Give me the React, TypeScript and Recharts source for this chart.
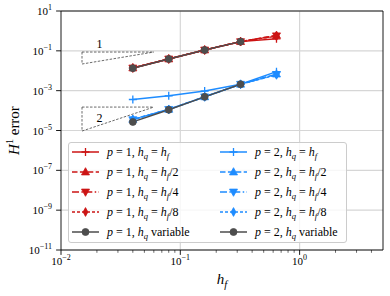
import {
  CartesianGrid,
  Line,
  LineChart,
  ReferenceArea,
  ReferenceDot,
  ReferenceLine,
  XAxis,
  YAxis,
} from "recharts";

const SERIF = "'Liberation Serif', 'DejaVu Serif', serif";
const RED = "#cc1414";
const BLUE = "#1e8cff";
const GREY = "#4d4d4d";

// mesh sizes h_f
const hf = [0.04, 0.08, 0.16, 0.32, 0.64];

// p = 1
const p1Equal = [0.0138, 0.039, 0.11, 0.29, 0.4];
const p1Half = [0.0138, 0.039, 0.11, 0.29, 0.6];
const p1Quarter = [0.0138, 0.039, 0.11, 0.29, 0.57];
const p1Eighth = [0.0138, 0.039, 0.11, 0.29, 0.54];
const p1Variable = [0.0135, 0.039, 0.11, 0.29];

// p = 2
const p2Equal = [3.6e-4, 5.5e-4, 9.5e-4, 2.1e-3, 9.0e-3];
const p2Half = [3.6e-5, 1.15e-4, 4.9e-4, 2.1e-3, 6.8e-3];
const p2Quarter = [3.5e-5, 1.15e-4, 4.9e-4, 2.1e-3, 6.5e-3];
const p2Eighth = [3.5e-5, 1.15e-4, 4.9e-4, 2.1e-3, 6.2e-3];
const p2Variable = [2.7e-5, 1.1e-4, 4.9e-4, 2.1e-3];

// slope triangles
const slopeX = [0.015, 0.06];
const slope1Y = [0.0218, 0.087];
const slope2Y = [9.4e-6, 1.5e-4];
const slopeLabelX = 0.021;
const slope1LabelY = 0.138;
const slope2LabelY = 2.8e-5;

const xTicks = [
  0.01, 0.02, 0.03, 0.04, 0.05, 0.06, 0.07, 0.08, 0.09,
  0.1, 0.2, 0.3, 0.4, 0.5, 0.6, 0.7, 0.8, 0.9,
  1, 2, 3, 4,
];
const yTicks = [1e-11, 1e-9, 1e-7, 1e-5, 1e-3, 1e-1, 10];

type Shape = "plus" | "up" | "down" | "thin" | "circle";
type Series = {
  name: string;
  ys: number[];
  color: string;
  shape: Shape;
  dash?: string;
  p: number;
  hq: string;
};

const SERIES: Series[] = [
  { name: "p1-eq", ys: p1Equal, color: RED, shape: "plus", p: 1, hq: "" },
  { name: "p1-2", ys: p1Half, color: RED, shape: "up", dash: "5.5 2.4", p: 1, hq: "/2" },
  { name: "p1-4", ys: p1Quarter, color: RED, shape: "down", dash: "7 2.4 1.5 2.4", p: 1, hq: "/4" },
  { name: "p1-8", ys: p1Eighth, color: RED, shape: "thin", dash: "3 2", p: 1, hq: "/8" },
  { name: "p1-var", ys: p1Variable, color: GREY, shape: "circle", p: 1, hq: "var" },
  { name: "p2-eq", ys: p2Equal, color: BLUE, shape: "plus", p: 2, hq: "" },
  { name: "p2-2", ys: p2Half, color: BLUE, shape: "up", dash: "5.5 2.4", p: 2, hq: "/2" },
  { name: "p2-4", ys: p2Quarter, color: BLUE, shape: "down", dash: "7 2.4 1.5 2.4", p: 2, hq: "/4" },
  { name: "p2-8", ys: p2Eighth, color: BLUE, shape: "thin", dash: "3 2", p: 2, hq: "/8" },
  { name: "p2-var", ys: p2Variable, color: GREY, shape: "circle", p: 2, hq: "var" },
];

const toPoints = (ys: number[]) => ys.map((y, i) => ({ x: hf[i], y }));

function Marker({ cx, cy, shape, color }: { cx: number; cy: number; shape: Shape; color: string }) {
  if (cx == null || cy == null) return <g />;
  switch (shape) {
    case "plus":
      return (
        <path
          d={`M${cx - 4},${cy}H${cx + 4}M${cx},${cy - 4}V${cy + 4}`}
          stroke={color}
          strokeWidth={1.3}
        />
      );
    case "up":
      return (
        <polygon
          points={`${cx},${cy - 4.3} ${cx - 4},${cy + 2.9} ${cx + 4},${cy + 2.9}`}
          fill={color}
          stroke={color}
          strokeWidth={0.8}
        />
      );
    case "down":
      return (
        <polygon
          points={`${cx},${cy + 4.3} ${cx - 4},${cy - 2.9} ${cx + 4},${cy - 2.9}`}
          fill={color}
          stroke={color}
          strokeWidth={0.8}
        />
      );
    case "thin":
      return (
        <polygon
          points={`${cx},${cy - 4.4} ${cx + 2.4},${cy} ${cx},${cy + 4.4} ${cx - 2.4},${cy}`}
          fill={color}
          stroke={color}
          strokeWidth={0.8}
        />
      );
    default:
      return <circle cx={cx} cy={cy} r={3.5} fill={color} stroke={color} strokeWidth={0.8} />;
  }
}

const expText = (e: number) => (e < 0 ? `\u2212${-e}` : `${e}`);

function XTick({ x, y, payload }: any) {
  const e = Math.log10(payload.value);
  const major = Math.abs(e - Math.round(e)) < 1e-6;
  return (
    <g>
      <line
        x1={x}
        x2={x}
        y1={y}
        y2={y + (major ? 4.9 : 2.8)}
        stroke="#000"
        strokeWidth={major ? 0.9 : 0.6}
      />
      {major && (
        <text x={x} y={y + 14.5} textAnchor="middle" fontFamily={SERIF} fontSize={11} fill="#000">
          10
          <tspan dy={-5} fontSize={8}>
            {expText(Math.round(e))}
          </tspan>
        </text>
      )}
    </g>
  );
}

function YTick({ x, y, payload }: any) {
  const e = Math.round(Math.log10(payload.value));
  return (
    <g>
      <line x1={x - 4.9} x2={x} y1={y} y2={y} stroke="#000" strokeWidth={0.9} />
      <text x={x - 9} y={y + 4} textAnchor="end" fontFamily={SERIF} fontSize={11} fill="#000">
        10
        <tspan dy={-5} fontSize={8}>
          {expText(e)}
        </tspan>
      </text>
    </g>
  );
}

function SeriesLabel({ p, hq }: { p: number; hq: string }) {
  return (
    <>
      <tspan fontStyle="italic">p</tspan>
      <tspan>{` = ${p}, `}</tspan>
      <tspan fontStyle="italic">h</tspan>
      <tspan fontStyle="italic" fontSize={8.5} dy={3}>
        q
      </tspan>
      {hq === "var" ? (
        <tspan dy={-3}>{" variable"}</tspan>
      ) : (
        <>
          <tspan dy={-3}>{" = "}</tspan>
          <tspan fontStyle="italic">h</tspan>
          <tspan fontStyle="italic" fontSize={8.5} dy={3}>
            f
          </tspan>
          <tspan dy={-3}>{hq}</tspan>
        </>
      )}
    </>
  );
}

function ChartLegend() {
  return (
    <div
      style={{
        position: "absolute",
        left: 68,
        top: 142,
        width: 279,
        height: 101,
        border: "1px solid #cccccc",
        borderRadius: 3,
        background: "rgba(255,255,255,0.8)",
        boxSizing: "border-box",
      }}
    >
      <svg width={279} height={101} style={{ position: "absolute", left: -1, top: -1 }}>
        {SERIES.map((s, i) => {
          const col = i < 5 ? 0 : 1;
          const row = i % 5;
          const x0 = col === 0 ? 4 : 152;
          const cy = 10 + row * 20;
          return (
            <g key={s.name}>
              <line
                x1={x0}
                x2={x0 + 27}
                y1={cy}
                y2={cy}
                stroke={s.color}
                strokeWidth={1.5}
                strokeDasharray={s.dash}
              />
              <Marker cx={x0 + 13.5} cy={cy} shape={s.shape} color={s.color} />
              <text x={x0 + 35} y={cy + 4} fontFamily={SERIF} fontSize={12} fill="#000">
                <SeriesLabel p={s.p} hq={s.hq} />
              </text>
            </g>
          );
        })}
      </svg>
    </div>
  );
}

export default function App() {
  return (
    <div style={{ position: "absolute", left: 0, top: 0, width: 390, height: 296, background: "#fff" }}>
      <LineChart width={390} height={296} margin={{ top: 11, right: 7, left: 0, bottom: 0 }}>
        <CartesianGrid
          stroke="#d6d6d6"
          strokeWidth={1.2}
          verticalValues={[0.1, 1]}
          horizontalValues={yTicks}
        />
        <XAxis
          dataKey="x"
          type="number"
          scale="log"
          domain={[0.01, 5]}
          allowDataOverflow
          ticks={xTicks}
          interval={0}
          tickSize={0}
          tickMargin={0}
          axisLine={false}
          tick={<XTick />}
          height={46}
        />
        <YAxis
          dataKey="y"
          type="number"
          scale="log"
          domain={[1e-11, 10]}
          allowDataOverflow
          ticks={yTicks}
          interval={0}
          tickSize={0}
          tickMargin={0}
          axisLine={false}
          tick={<YTick />}
          width={61}
        />
        <ReferenceLine
          segment={[
            { x: slopeX[0], y: slope1Y[1] },
            { x: slopeX[1], y: slope1Y[1] },
          ]}
          stroke="#444"
          strokeWidth={0.8}
          strokeDasharray="2.5 1.5"
        />
        <ReferenceLine
          segment={[
            { x: slopeX[0], y: slope1Y[1] },
            { x: slopeX[0], y: slope1Y[0] },
          ]}
          stroke="#444"
          strokeWidth={0.8}
          strokeDasharray="2.5 1.5"
        />
        <ReferenceLine
          segment={[
            { x: slopeX[0], y: slope1Y[0] },
            { x: slopeX[1], y: slope1Y[1] },
          ]}
          stroke="#444"
          strokeWidth={0.8}
          strokeDasharray="2.5 1.5"
        />
        <ReferenceLine
          segment={[
            { x: slopeX[0], y: slope2Y[1] },
            { x: slopeX[1], y: slope2Y[1] },
          ]}
          stroke="#444"
          strokeWidth={0.8}
          strokeDasharray="2.5 1.5"
        />
        <ReferenceLine
          segment={[
            { x: slopeX[0], y: slope2Y[1] },
            { x: slopeX[0], y: slope2Y[0] },
          ]}
          stroke="#444"
          strokeWidth={0.8}
          strokeDasharray="2.5 1.5"
        />
        <ReferenceLine
          segment={[
            { x: slopeX[0], y: slope2Y[0] },
            { x: slopeX[1], y: slope2Y[1] },
          ]}
          stroke="#444"
          strokeWidth={0.8}
          strokeDasharray="2.5 1.5"
        />
        <ReferenceDot
          x={slopeLabelX}
          y={slope1LabelY}
          r={0}
          shape={(p: any) => (
            <text x={p.cx} y={p.cy} textAnchor="middle" fontFamily={SERIF} fontSize={12} fill="#000">
              1
            </text>
          )}
        />
        <ReferenceDot
          x={slopeLabelX}
          y={slope2LabelY}
          r={0}
          shape={(p: any) => (
            <text x={p.cx} y={p.cy} textAnchor="middle" fontFamily={SERIF} fontSize={12} fill="#000">
              2
            </text>
          )}
        />
        {SERIES.map((s) => (
          <Line
            key={s.name}
            data={toPoints(s.ys)}
            dataKey="y"
            type="linear"
            stroke={s.color}
            strokeWidth={1.5}
            strokeDasharray={s.dash}
            dot={(props: any) => (
              <Marker key={`${s.name}-${props.index}`} cx={props.cx} cy={props.cy} shape={s.shape} color={s.color} />
            )}
            activeDot={false}
            isAnimationActive={false}
          />
        ))}
        <ReferenceArea
          x1={0.01}
          x2={5}
          y1={1e-11}
          y2={10}
          fill="none"
          fillOpacity={0}
          stroke="#000"
          strokeWidth={0.9}
        />
      </LineChart>
      <ChartLegend />
      <svg width={390} height={296} style={{ position: "absolute", left: 0, top: 0, pointerEvents: "none" }}>
        <text
          x={19}
          y={130.5}
          transform="rotate(-90, 19, 130.5)"
          textAnchor="middle"
          fontFamily={SERIF}
          fontSize={15}
          fill="#000"
        >
          <tspan fontStyle="italic">H</tspan>
          <tspan dy={-6} fontSize={10}>
            1
          </tspan>
          <tspan dy={6}>{" error"}</tspan>
        </text>
        <text x={222} y={284} textAnchor="middle" fontFamily={SERIF} fontSize={15} fill="#000">
          <tspan fontStyle="italic">h</tspan>
          <tspan fontStyle="italic" fontSize={10.5} dy={3.5}>
            f
          </tspan>
        </text>
      </svg>
    </div>
  );
}
